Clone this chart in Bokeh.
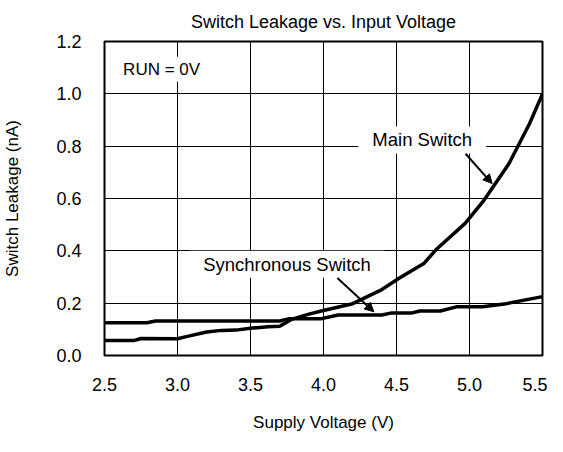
from bokeh.plotting import figure
from bokeh.models import FixedTicker, Label, Arrow, NormalHead, Range1d, CustomJSTickFormatter
from bokeh.embed import file_html
from bokeh.resources import INLINE

# Data
main_v = [2.5, 2.7, 2.75, 3.0, 3.06, 3.2, 3.3, 3.4, 3.5, 3.62, 3.7, 3.78, 3.9, 4.0,
          4.2, 4.4, 4.52, 4.69, 4.77, 4.97, 5.1, 5.27, 5.41, 5.5]
main_i = [0.057, 0.057, 0.065, 0.064, 0.072, 0.09, 0.096, 0.097, 0.104, 0.11, 0.112,
          0.138, 0.158, 0.172, 0.198, 0.252, 0.296, 0.353, 0.404, 0.505, 0.594,
          0.733, 0.885, 1.0]
sync_v = [2.5, 2.79, 2.85, 3.7, 3.76, 3.98, 4.1, 4.4, 4.46, 4.6, 4.66, 4.8, 4.91,
          5.09, 5.25, 5.5]
sync_i = [0.125, 0.125, 0.132, 0.132, 0.14, 0.14, 0.155, 0.155, 0.162, 0.162, 0.17,
          0.17, 0.186, 0.186, 0.198, 0.225]
x_ticks = [2.5, 3.0, 3.5, 4.0, 4.5, 5.0, 5.5]
y_ticks = [0.0, 0.2, 0.4, 0.6, 0.8, 1.0, 1.2]

FONT = "Liberation Sans"

p = figure(width=547, height=436, output_backend="svg", toolbar_location=None,
           x_range=Range1d(2.5, 5.5), y_range=Range1d(0, 1.2),
           min_border_left=99, min_border_right=5, min_border_top=39, min_border_bottom=81,
           title="Switch Leakage vs. Input Voltage")

p.title.align = "center"
p.title.text_font = FONT
p.title.text_font_size = "18px"
p.title.text_font_style = "normal"
p.title.text_color = "black"
p.title.standoff = 19

p.outline_line_color = "black"
p.outline_line_width = 2
p.outline_line_alpha = 1

for ax in (p.xaxis[0], p.yaxis[0]):
    ax.axis_line_color = None
    ax.major_tick_line_color = None
    ax.minor_tick_line_color = None
    ax.major_tick_out = 0
    ax.major_tick_in = 0
    ax.major_label_text_font = FONT
    ax.major_label_text_font_size = "18px"
    ax.major_label_text_color = "black"
    ax.axis_label_text_font = FONT
    ax.axis_label_text_font_size = "17px"
    ax.axis_label_text_font_style = "normal"
    ax.axis_label_text_color = "black"

p.xaxis.ticker = FixedTicker(ticks=x_ticks)
p.yaxis.ticker = FixedTicker(ticks=y_ticks)
p.xaxis.formatter = CustomJSTickFormatter(code="return tick.toFixed(1);")
p.yaxis.formatter = CustomJSTickFormatter(code="return tick.toFixed(1);")
p.xaxis.major_label_standoff = 22
p.yaxis.major_label_standoff = 23
p.xaxis.axis_label = "Supply Voltage (V)"
p.yaxis.axis_label = "Switch Leakage (nA)"
p.xaxis.axis_label_standoff = 19
p.yaxis.axis_label_standoff = 31

p.xgrid.ticker = FixedTicker(ticks=x_ticks)
p.ygrid.ticker = FixedTicker(ticks=y_ticks)
for g in (p.xgrid[0], p.ygrid[0]):
    g.grid_line_color = "black"
    g.grid_line_alpha = 1
    g.grid_line_width = 1

p.line(main_v, main_i, line_color="black", line_width=3.5)
p.line(sync_v, sync_i, line_color="black", line_width=3.5)

def lab(x, y, text, align="center", size="18.5px", pad=(14, 3)):
    l = Label(x=x, y=y, text=text, text_align=align, text_baseline="middle",
              text_font=FONT, text_font_size=size, text_color="black",
              background_fill_color="white", background_fill_alpha=1,
              padding=dict(x=pad[0], y=pad[1]))
    p.add_layout(l)

lab(2.6, 1.094, "RUN = 0V", align="left", size="17px", pad=(4, 3))
lab(4.676, 0.824, "Main Switch")
lab(3.75, 0.349, "Synchronous Switch")

p.add_layout(Arrow(x_start=4.973, y_start=0.771, x_end=5.155, y_end=0.657,
                   line_width=2, line_color="black",
                   end=NormalHead(size=9, fill_color="black", line_color="black")))
p.add_layout(Arrow(x_start=4.095, y_start=0.296, x_end=4.345, y_end=0.167,
                   line_width=2, line_color="black",
                   end=NormalHead(size=9, fill_color="black", line_color="black")))

open("out.html", "w").write(file_html(p, INLINE))
